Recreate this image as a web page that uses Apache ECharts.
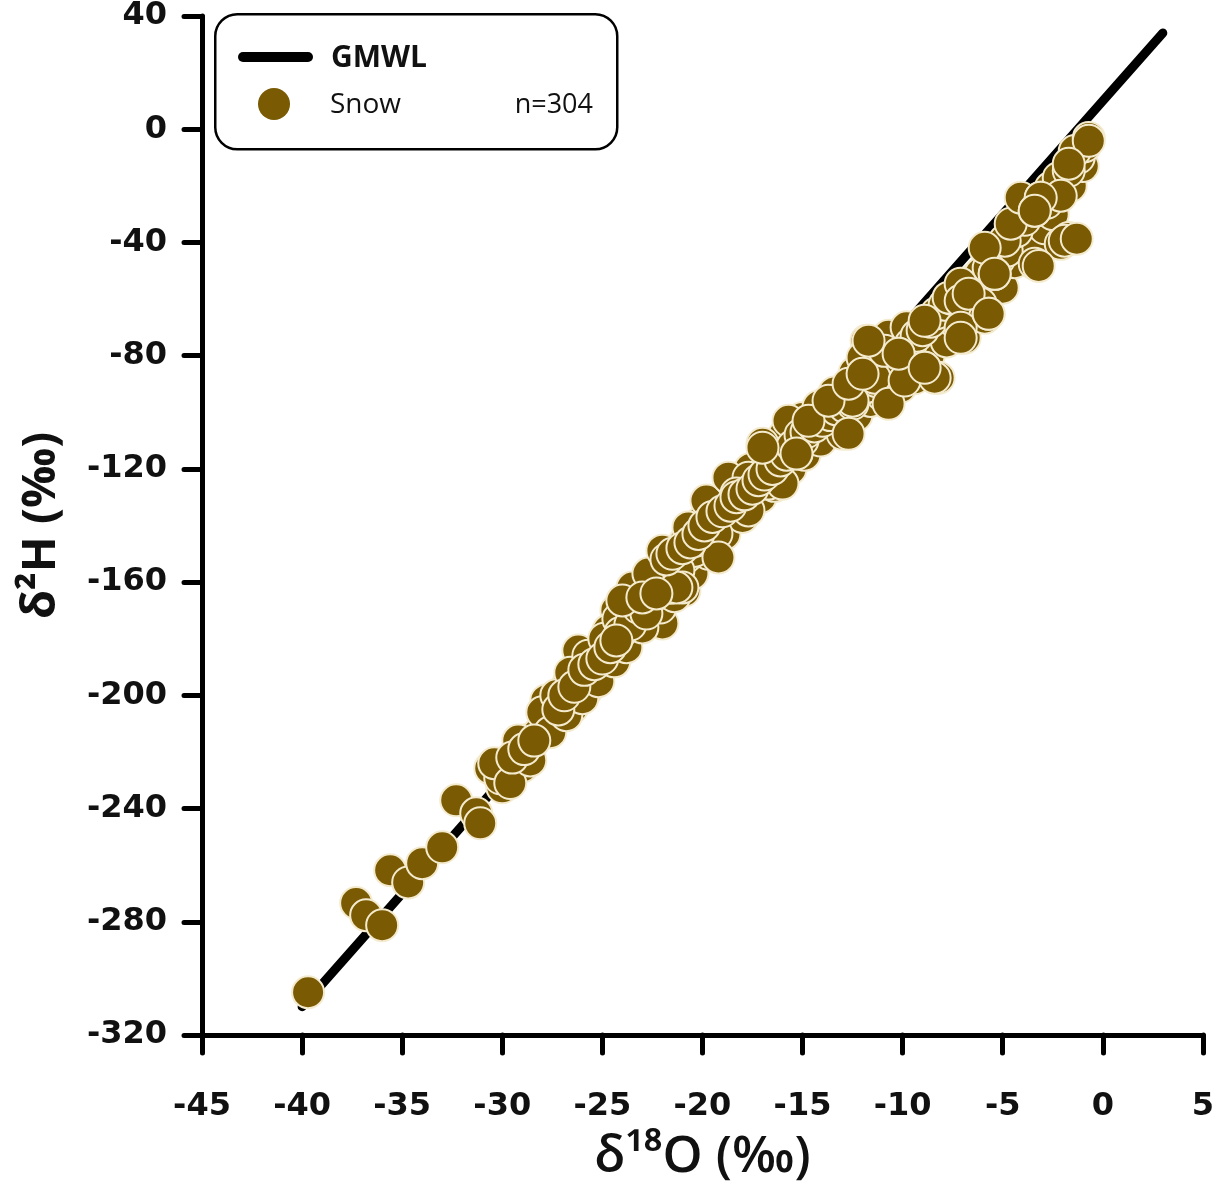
<!DOCTYPE html>
<html>
<head>
<meta charset="utf-8">
<script src="https://cdn.jsdelivr.net/npm/echarts@6/dist/echarts.min.js"></script>
<style>
html,body{margin:0;padding:0;background:#fff;overflow:hidden;}
#chart{width:1217px;height:1189px;}
</style>
</head>
<body>
<div id="chart"></div>
<script>
// ---- data ----
var xTicks = [-45,-40,-35,-30,-25,-20,-15,-10,-5,0,5];
var yTicks = [-320,-280,-240,-200,-160,-120,-80,-40,0,40];
var gmwlX = [-40, 3];
var gmwlY = [-310, 34];
var snowO18 = [
 -39.7,-37.3,-36.8,-36.0,-35.6,-34.7,-34.0,-33.0,-32.3,-31.3,-31.1,-30.6,-30.0,-30.1,-29.0,-28.8,-28.2,-27.5,-27.8,-26.5,
 -26.7,-25.6,-26.2,-25.1,-25.8,-23.9,-24.3,-23.3,-22.8,-22.0,-22.2,-21.3,-24.7,-23.7,-22.9,-20.9,
 -30.4,-29.2,-28.0,-27.3,-26.6,-25.7,-24.9,-24.2,-23.4,-22.5,-21.7,-20.9,-20.1,-19.4,-18.5,-17.6,-16.8,-15.9,-15.0,-14.2,
 -13.4,-12.4,-11.5,-10.7,-9.8,
 -29.6,-28.6,-27.6,-26.8,-26.0,-25.2,-24.4,-23.8,-23.0,-22.1,-21.4,-20.5,-19.7,-18.9,-18.0,-17.1,-16.4,-15.6,-14.9,-14.1,
 -13.2,-12.3,-11.6,-11.0,-10.1,-9.4,-8.7,-7.8,-7.4,-6.5,-6.3,-5.0,-4.4,-3.6,-2.9,-2.5,-1.6,-1.0,
 -29.5,-28.9,-28.4,-27.2,-26.9,-26.4,-25.9,-25.4,-25.0,-24.6,-24.1,-23.6,-23.2,-22.6,-22.4,-21.9,-21.6,-20.8,-20.4,
 -24.3,-22.8,-23.5,-22.7,-21.2,-21.0,-22.0,-20.7,-19.3,-19.8,-18.7,-17.7,-17.8,-16.7,-17.0,-15.3,-14.6,-13.0,-15.7,-20.3,
 -19.2,-21.3,-24.0,-23.0,-22.3,-16.0,-16.3,-15.0,-17.7,-18.3,
 -21.8,-21.5,-21.0,-20.6,-20.2,-19.9,-19.5,-19.0,-18.6,-18.3,-17.9,-17.5,-17.2,-16.9,-16.5,-16.1,-15.8,-15.5,-15.1,-14.8,
 -14.4,-14.0,-13.6,-13.3,-12.9,-12.5,-12.2,-11.8,-11.3,-11.0,-10.6,-10.3,-9.9,-9.6,-9.3,-9.0,-8.6,-8.3,-7.9,-7.5,
 -7.2,-6.8,-6.4,-6.1,-5.2,-4.8,-4.3,-3.9,-2.8,-2.4,-1.2,-0.9,
 -17.0,-15.3,-14.7,-12.7,-12.5,-13.7,-11.8,-12.0,-11.4,-10.7,-10.2,-8.9,-8.2,-8.9,-7.7,-6.9,-6.1,-5.7,-7.1,-10.9,
 -12.7,-9.9,
 -12.0,-11.7,-8.4,-10.2,-8.9,-7.1,-5.9,-7.1,-5.4,-5.7,
 -4.9,-5.9,-5.4,-6.7,-5.7,-7.1,-4.6,-4.1,-2.6,-3.4,-3.4,-2.1,-1.7,-3.1,-2.2,-1.7,-1.4,-0.7,
 -1.9,-3.2,-1.3,-2.1,-0.7,-1.7,-3.1,-3.4
];
var snowH2 = [
 -304.9,-273.4,-277.7,-281.2,-261.8,-266.1,-259.3,-253.7,-237.1,-241.7,-245.2,-225.8,-232.5,-229.3,-225.1,-215.9,-213.5,-209.6,-201.8,-204.3,
 -195.8,-193.0,-184.2,-184.2,-198.3,-179.6,-170.0,-165.4,-171.1,-174.6,-157.0,-157.0,-177.1,-173.6,-161.2,-163.0,
 -224,-216,-206,-200,-192,-186,-180,-173,-167,-160,-153,-146,-139,-134,-126,-120,-114,-108,-102,-98,
 -93,-86,-79,-73,-70,
 -231,-223,-213,-207,-201,-195,-188,-183,-176,-169,-165,-157,-150,-143,-137,-130,-126,-120,-115,-110,
 -104,-101,-96,-94,-91,-88,-80,-75,-68,-63,-58,-56,-47,-42,-35,-30,-20,-13,
 -222,-219,-216,-205,-200,-197,-191,-189,-187,-183,-178,-175,-169,-166,-160,-158,-162,-151,-149,
 -180.6,-171.1,-161.9,-157.0,-155.9,-161.9,-148.9,-140.7,-142.9,-131.2,-123.1,-134.7,-126.6,-125.2,-111.1,-114.6,-103.7,-107.6,-103.0,-145.3,
 -151.3,-161.9,-166.5,-165.4,-164.0,-125.2,-118.1,-110.0,-123.1,-128.7,
 -152,-150,-148,-146,-143,-140,-137,-135,-133,-130,-129,-127,-124,-122,-120,-117,-115,-112,-108,-107,
 -105,-103,-101,-99,-98,-97,-93,-91,-89,-86,-84,-82,-80,-76,-73,-71,-68,-65,-62,-60,
 -57,-55,-53,-51,-46,-43,-36,-32,-26,-22,-10,-6,
 -112.5,-114.6,-103.0,-107.6,-95.9,-95.9,-74.7,-80.7,-87.8,-97.0,-79.3,-84.3,-87.8,-67.7,-59.5,-73.7,-61.7,-49.0,-54.6,-78.3,
 -89.9,-88.8,
 -86.4,-74.7,-87.8,-79.3,-84.3,-60.6,-66.6,-70.1,-51.1,-65.2,
 -39.4,-41.9,-51.1,-58.1,-65.2,-73.7,-33.4,-24.2,-20.7,-28.8,-47.5,-40.5,-38.4,-24.2,-17.2,-14.7,-7.7,-3.1,
 -39.4,-48.3,-38.7,-23.5,-4.1,-12.2,-24.2,-28.8
];

var snowPts = snowO18.map(function(v,i){return [v, snowH2[i]];});
var gmwlPts = gmwlX.map(function(v,i){return [v, gmwlY[i]];});

var BROWN = '#7a5a02';
var el = document.getElementById('chart');
var chart = echarts.init(el, null, {renderer:'canvas', width:1217, height:1189});
var tickFont = {fontFamily:'DejaVu Sans', fontWeight:'bold', fontSize:32, color:'#111'};
chart.setOption({
  animation:false,
  backgroundColor:'#fff',
  grid:{left:202, top:15, width:1003, height:1020, containLabel:false},
  xAxis:{
    type:'value', min:xTicks[0], max:xTicks[xTicks.length-1], interval:5,
    name:'δ¹⁸O (‰)', nameLocation:'middle', nameGap:97,
    nameTextStyle:{fontFamily:'Open Sans', fontWeight:600, fontSize:51, color:'#111'},
    axisLine:{onZero:false, lineStyle:{color:'#000', width:5}},
    axisTick:{inside:false, length:18, lineStyle:{color:'#000', width:5, cap:'round'}},
    axisLabel:Object.assign({margin:56, verticalAlign:'top'}, tickFont),
    splitLine:{show:false}
  },
  yAxis:{
    type:'value', min:yTicks[0], max:yTicks[yTicks.length-1], interval:40,
    name:'δ²H (‰)', nameLocation:'middle', nameGap:137, nameRotate:90,
    nameTextStyle:{fontFamily:'Open Sans', fontWeight:'bold', fontSize:47, color:'#111'},
    axisLine:{onZero:false, lineStyle:{color:'#000', width:5}},
    axisTick:{inside:false, length:18, lineStyle:{color:'#000', width:5, cap:'round'}},
    axisLabel:Object.assign({margin:35}, tickFont),
    splitLine:{show:false}
  },
  series:[
    {type:'line', data:gmwlPts, symbol:'none', z:2,
     lineStyle:{color:'#000', width:9, cap:'round'}},
    {type:'scatter', data:snowPts, symbol:'circle', symbolSize:32, z:3,
     itemStyle:{color:BROWN, borderColor:'#f4ebcf', borderWidth:2, opacity:1}}
  ],
  graphic:[
    {type:'rect', left:214, top:13, shape:{width:402, height:135, r:22},
     style:{fill:'#fff', stroke:'#000', lineWidth:2.5}, z:10},
    {type:'line', shape:{x1:243, y1:57, x2:308, y2:57},
     style:{stroke:'#000', lineWidth:10, lineCap:'round'}, z:11},
    {type:'text', x:331, y:58, style:{text:'GMWL', fontFamily:'Open Sans', fontWeight:'bold', fontSize:30, fill:'#111', verticalAlign:'middle'}, z:11},
    {type:'circle', shape:{cx:274, cy:104, r:16}, style:{fill:BROWN}, z:11},
    {type:'text', x:330, y:105, style:{text:'Snow', fontFamily:'Open Sans', fontSize:28, fill:'#111', verticalAlign:'middle'}, z:11},
    {type:'text', x:593, y:105, style:{text:'n=304', fontFamily:'Open Sans', fontSize:27, fill:'#111', align:'right', verticalAlign:'middle'}, z:11}
  ]
});
</script>
</body>
</html>
